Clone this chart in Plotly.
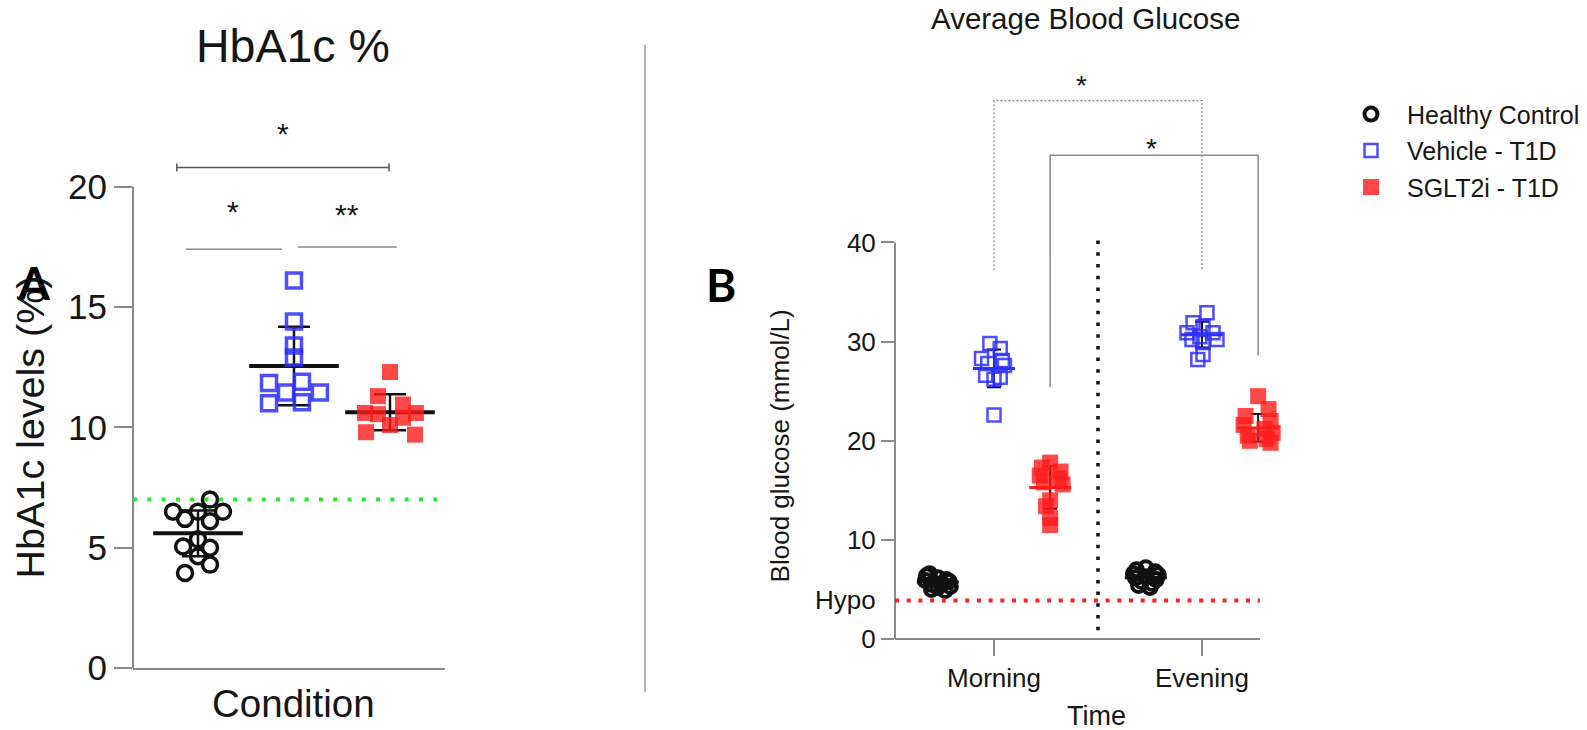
import plotly.graph_objects as go

# ---------------- data ----------------
groups = ["Healthy Control", "Vehicle - T1D", "SGLT2i - T1D"]

# Panel A : HbA1c (%)
hba1c_healthy = [7.0, 6.5, 6.5, 6.5, 6.2, 6.1, 5.35, 5.05, 5.0, 4.65, 4.3, 3.95]
hba1c_vehicle = [16.1, 14.4, 13.4, 12.9, 11.85, 11.9, 11.45, 11.45, 11.0, 11.05]
hba1c_sglt2i = [12.3, 11.3, 10.95, 10.6, 10.6, 10.55, 10.4, 10.1, 9.8, 9.7]
hba1c_mean = [5.6, 12.55, 10.63]
hba1c_sd = [0.95, 1.63, 0.75]
hba1c_ticks = [0, 5, 10, 15, 20]
hba1c_target = 7.0
hba1c_sig = ["*", "*", "**"]

# Panel B : blood glucose (mmol/L)
times = ["Morning", "Evening"]
bg_healthy_morning = [6.6, 6.4, 6.2, 6.0, 5.9, 5.8, 5.6, 5.5, 5.3, 5.2, 5.0, 4.9]
bg_healthy_evening = [7.2, 7.0, 6.8, 6.6, 6.5, 6.3, 6.2, 6.0, 5.8, 5.6, 5.4, 5.2]
bg_vehicle_morning = [29.8, 29.3, 28.3, 28.1, 27.8, 27.6, 26.6, 26.4, 26.2, 22.6]
bg_vehicle_evening = [32.9, 31.9, 31.5, 30.9, 30.9, 30.5, 30.2, 30.2, 29.9, 28.7, 28.2]
bg_sglt2i_morning = [17.8, 17.3, 16.9, 16.5, 16.2, 15.8, 15.6, 14.0, 13.4, 12.2, 11.5]
bg_sglt2i_evening = [24.5, 23.2, 22.5, 22.0, 21.6, 21.2, 20.8, 20.5, 20.2, 20.0, 19.8]
bg_mean_healthy = [5.75, 6.2]
bg_sd_healthy = [0.5, 0.6]
bg_mean_vehicle = [27.3, 30.7]
bg_sd_vehicle = [1.9, 1.3]
bg_mean_sglt2i = [15.3, 21.3]
bg_sd_sglt2i = [2.15, 1.4]
bg_ticks = [0, 10, 20, 30, 40]
hypo_level = 3.9
bg_sig = ["*", "*"]

# ---------------- layout constants (positions / styles) ----------------
W, H = 1587, 730          # reference frame used for the positions below
FIG_H = 748               # page height (the capture is fitted to 730 px)
FONT = "Liberation Sans, Arial, sans-serif"
BOLD_FONT = "Lato, Noto Sans, sans-serif"
AXC = "#8a8a8a"
TXT = "#161616"
BLACK = "#111111"
BLUE = "#2f2fff"
RED = "#ff1c1c"

def pxx(p):
    return p / W

def pxy(p):
    return 1 - p / H

# x-range of panel B: visible axis ends at B_AXIS_END, plotting area a bit wider
B_XMIN, B_AXIS_END, B_XMAX = -0.476, 1.279, 1.40

# jitter offsets (in category units) of the scatter points
off_a = [
    [0.125, -0.26, 0.0, 0.26, -0.135, 0.125, 0.0, -0.155, 0.125, 0.0, 0.125, -0.135],
    [0.0, 0.0, 0.0, 0.0, -0.26, 0.083, -0.083, 0.27, -0.26, 0.083],
    [0.0, -0.125, 0.135, -0.26, 0.27, -0.125, 0.135, 0.0, -0.25, 0.26],
]
group_shift_b = [-0.27, 0.0, 0.27]
off_b = {
    (0, 0): [-0.04, -0.055, 0.0, 0.04, -0.06, 0.055, 0.02, -0.03, 0.06, 0.0, -0.03, 0.035],
    (0, 1): [0.0, -0.045, 0.045, -0.06, 0.06, 0.0, -0.05, 0.05, -0.02, 0.03, -0.035, 0.02],
    (1, 0): [-0.02, 0.03, -0.06, 0.04, -0.03, 0.05, -0.04, 0.03, 0.0, 0.0],
    (1, 1): [0.024, -0.043, 0.005, -0.072, 0.053, -0.01, 0.072, -0.048, 0.005, 0.005, -0.02],
    (2, 0): [0.0, -0.04, 0.05, -0.05, 0.04, -0.03, 0.06, 0.0, -0.02, 0.0, 0.0],
    (2, 1): [0.0, 0.05, -0.06, 0.06, -0.07, 0.03, 0.07, -0.05, 0.04, -0.04, 0.06],
}

styles_a = [
    dict(symbol="circle-open", size=15, color=BLACK, line=dict(width=3.5, color=BLACK)),
    dict(symbol="square-open", size=15, color=BLUE, opacity=0.85, line=dict(width=3.5, color=BLUE)),
    dict(symbol="square", size=16, color=RED, opacity=0.8, line=dict(width=0)),
]
styles_b = [
    dict(symbol="circle-open", size=13, color=BLACK, line=dict(width=4, color=BLACK)),
    dict(symbol="square-open", size=13, color=BLUE, opacity=0.85, line=dict(width=2.5, color=BLUE)),
    dict(symbol="square", size=16, color=RED, opacity=0.8, line=dict(width=0)),
]

fig = go.Figure()

# ---------------- panel A ----------------
hba1c_vals = [hba1c_healthy, hba1c_vehicle, hba1c_sglt2i]
fig.add_trace(go.Scatter(
    x=list(range(len(groups))), y=hba1c_mean, mode="markers",
    marker=dict(symbol="line-ew-open", size=64, color=BLACK, line=dict(width=4, color=BLACK)),
    error_y=dict(type="data", array=hba1c_sd, color=BLACK, thickness=2.5, width=16),
    xaxis="x", yaxis="y", showlegend=False, cliponaxis=False, hoverinfo="skip"))
for i, vals in enumerate(hba1c_vals):
    fig.add_trace(go.Scatter(
        x=[i + o for o in off_a[i]], y=vals, mode="markers", name=groups[i],
        marker=styles_a[i], xaxis="x", yaxis="y", showlegend=False, cliponaxis=False))

# ---------------- panel B ----------------
bg_vals = [
    [bg_healthy_morning, bg_healthy_evening],
    [bg_vehicle_morning, bg_vehicle_evening],
    [bg_sglt2i_morning, bg_sglt2i_evening],
]
bg_means = [bg_mean_healthy, bg_mean_vehicle, bg_mean_sglt2i]
bg_sds = [bg_sd_healthy, bg_sd_vehicle, bg_sd_sglt2i]
mean_cols_b = [BLACK, BLUE, RED]
for g in range(3):
    fig.add_trace(go.Scatter(
        x=[t + group_shift_b[g] for t in range(len(times))], y=bg_means[g], mode="markers",
        marker=dict(symbol="line-ew-open", size=30, color=mean_cols_b[g],
                    line=dict(width=3, color=mean_cols_b[g])),
        error_y=dict(type="data", array=bg_sds[g], color=BLACK, thickness=2, width=7),
        xaxis="x2", yaxis="y2", showlegend=False, cliponaxis=False, hoverinfo="skip"))
for g in range(3):
    xs, ys = [], []
    for t in range(len(times)):
        xs += [t + group_shift_b[g] + o for o in off_b[(g, t)]]
        ys += bg_vals[g][t]
    fig.add_trace(go.Scatter(
        x=xs, y=ys, mode="markers", name=groups[g], legendgroup=groups[g],
        marker=styles_b[g], xaxis="x2", yaxis="y2", showlegend=True, cliponaxis=False))

# ---------------- shapes ----------------
shapes = []
shapes.append(dict(type="line", xref="x domain", yref="y", x0=0, x1=0, y0=0, y1=max(hba1c_ticks),
                   line=dict(color=AXC, width=2)))
shapes.append(dict(type="line", xref="x domain", yref="y", x0=0, x1=1, y0=hba1c_target, y1=hba1c_target,
                   line=dict(color="#2be82b", width=4, dash="4px,10.3px")))
shapes.append(dict(type="path", xref="x", yref="y",
                   path="M -0.22,20.63 V 20.97 M -0.22,20.8 H 1.99 M 1.99,20.63 V 20.97",
                   line=dict(color="#555555", width=1.5)))
shapes.append(dict(type="line", xref="x", yref="y", x0=-0.125, x1=0.875, y0=17.4, y1=17.4,
                   line=dict(color="#8a8a8a", width=1.5)))
shapes.append(dict(type="line", xref="x", yref="y", x0=1.04, x1=2.07, y0=17.5, y1=17.5,
                   line=dict(color="#8a8a8a", width=1.5)))
shapes.append(dict(type="line", xref="paper", yref="paper", x0=pxx(645), x1=pxx(645),
                   y0=pxy(45), y1=pxy(693), line=dict(color="#9a9a9a", width=1.5)))
# panel B axis lines
shapes.append(dict(type="line", xref="x2 domain", yref="y2", x0=0, x1=0, y0=0, y1=max(bg_ticks),
                   line=dict(color=AXC, width=2)))
shapes.append(dict(type="line", xref="x2", yref="y2 domain", x0=B_XMIN, x1=B_AXIS_END, y0=0, y1=0,
                   line=dict(color=AXC, width=2)))
shapes.append(dict(type="line", xref="x2", yref="y2", x0=B_XMIN, x1=B_AXIS_END, y0=hypo_level, y1=hypo_level,
                   line=dict(color="#ff2020", width=4, dash="4px,7.7px")))
shapes.append(dict(type="line", xref="x2", yref="y2", x0=0.5, x1=0.5, y0=0.9, y1=40.5,
                   line=dict(color=BLACK, width=3.5, dash="3.5px,8.2px")))
shapes.append(dict(type="path", xref="x2", yref="y2", path="M 0,37.2 V 54.3 H 1 V 37.2",
                   line=dict(color="#8a8a8a", width=1.3, dash="2px,2px")))
shapes.append(dict(type="path", xref="x2", yref="y2", path="M 0.27,25.4 V 48.8 H 1.27 V 28.6",
                   line=dict(color="#8a8a8a", width=1.5)))

# ---------------- annotations ----------------
def ann(text, x, y, size, xref="paper", yref="paper", xanchor="center", yanchor="middle", **kw):
    d = dict(text=text, x=x, y=y, xref=xref, yref=yref, showarrow=False,
             xanchor=xanchor, yanchor=yanchor,
             font=dict(family=FONT, size=size, color=TXT))
    d.update(kw)
    return d

annotations = [
    ann("HbA1c %", pxx(293), pxy(46), 46.5),
    ann("HbA1c levels (%)", pxx(30), pxy(428), 39.5, textangle=-90),
    ann("Condition", pxx(293), pxy(704), 38.5),
    ann(hba1c_sig[0], 0.885, 22.2, 30, xref="x", yref="y"),
    ann(hba1c_sig[1], 0.36, 18.95, 30, xref="x", yref="y"),
    ann(hba1c_sig[2], 1.55, 18.85, 30, xref="x", yref="y"),
    ann("Average Blood Glucose", pxx(1085), pxy(19), 29.5),
    ann("Blood glucose (mmol/L)", pxx(780), pxy(447), 26, textangle=-90),
    ann("Time", pxx(1096), pxy(717), 27),
    ann("Hypo", pxx(878), hypo_level, 26, yref="y2", xanchor="right"),
    ann(bg_sig[0], 0.42, 55.8, 28, xref="x2", yref="y2"),
    ann(bg_sig[1], 0.755, 49.5, 28, xref="x2", yref="y2"),
]
annotations.append(dict(text="A", x=pxx(34), y=pxy(283), xref="paper", yref="paper", showarrow=False,
                        xanchor="center", yanchor="middle",
                        font=dict(family=BOLD_FONT, size=46, color="#000000", weight="bold")))
annotations.append(dict(text="B", x=pxx(721), y=pxy(285), xref="paper", yref="paper", showarrow=False,
                        xanchor="center", yanchor="middle",
                        font=dict(family=BOLD_FONT, size=46, color="#000000", weight="bold")))

# ---------------- axes ----------------
b_px_per_unit = (1260 - 895) / (B_AXIS_END - B_XMIN)
b_right_px = 895 + (B_XMAX - B_XMIN) * b_px_per_unit
common_axis = dict(showgrid=False, zeroline=False, fixedrange=True)
fig.update_layout(
    width=W, height=FIG_H,
    margin=dict(l=0, r=0, t=0, b=0),
    paper_bgcolor="white", plot_bgcolor="white",
    font=dict(family=FONT, color=TXT),
    xaxis=dict(domain=[pxx(133), pxx(445)], range=[-0.677, 2.573], showline=True,
               linecolor=AXC, linewidth=2, ticks="", showticklabels=False, anchor="y", **common_axis),
    yaxis=dict(domain=[pxy(669), pxy(95.4)], range=[0, 23.8], showline=False,
               ticks="outside", ticklen=18, tickwidth=2, tickcolor=AXC,
               tickvals=hba1c_ticks, ticktext=[str(v) for v in hba1c_ticks],
               tickfont=dict(family=FONT, size=35, color=TXT), anchor="x", **common_axis),
    xaxis2=dict(domain=[pxx(895), pxx(b_right_px)], range=[B_XMIN, B_XMAX], showline=False,
                ticks="outside", ticklen=16, tickwidth=2, tickcolor=AXC,
                tickvals=list(range(len(times))), ticktext=times,
                tickfont=dict(family=FONT, size=26, color=TXT), anchor="y2", **common_axis),
    yaxis2=dict(domain=[pxy(640), pxy(64)], range=[0, 58], showline=False,
                ticks="outside", ticklen=13, tickwidth=2, tickcolor=AXC,
                tickvals=bg_ticks, ticktext=[str(v) for v in bg_ticks],
                tickfont=dict(family=FONT, size=26, color=TXT), anchor="x2", **common_axis),
    legend=dict(x=pxx(1335), y=pxy(91.5), xanchor="left", yanchor="top",
                font=dict(family=FONT, size=25, color=TXT), bgcolor="rgba(0,0,0,0)",
                tracegroupgap=1, itemwidth=62,
                itemclick=False, itemdoubleclick=False),
    shapes=shapes,
    annotations=annotations,
    showlegend=True,
)

fig.write_html("out.html", config={"displayModeBar": False},
               post_script="document.body.style.margin='0';document.body.style.overflow='hidden';")
